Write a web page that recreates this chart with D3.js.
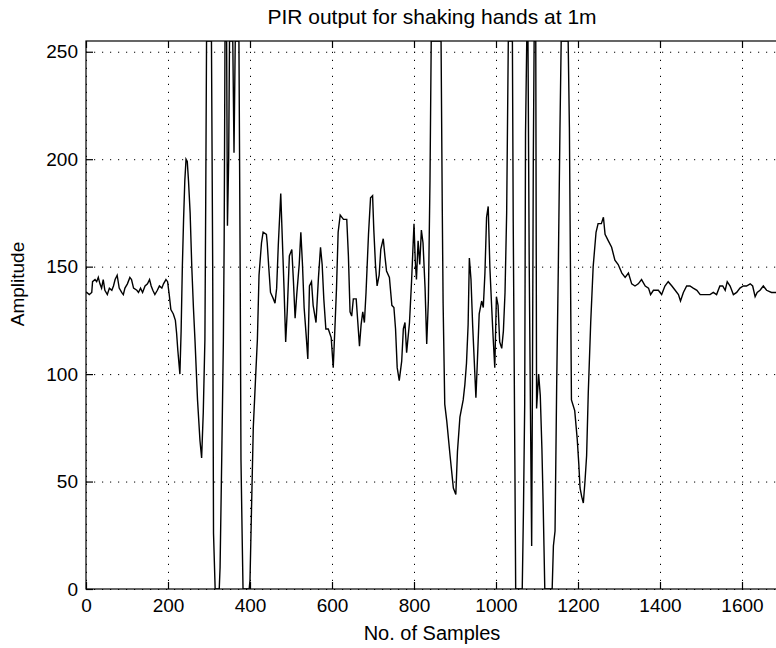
<!DOCTYPE html>
<html>
<head>
<meta charset="utf-8">
<script src="https://cdn.jsdelivr.net/npm/d3@7/dist/d3.min.js"></script>
<style>
  body { margin: 0; background: #fff; }
  text { font-family: "Liberation Sans", Arial, sans-serif; fill: #000; }
</style>
</head>
<body>
<div id="chart"></div>
<script>
// samples (x = sample no., y = PIR amplitude, clipped 0..255)
const sampleNo = [0, 2, 8, 14, 16, 22, 26, 30, 34, 38, 42, 46, 52, 57, 63, 67, 71, 76, 81, 87,
  91, 95, 101, 107, 111, 116, 124, 128, 133, 138, 144, 150, 155, 159, 163, 168, 174, 179, 185, 189,
  195, 199, 203, 207, 213, 218, 221, 224, 229, 232, 235, 238, 241, 244, 247, 250, 254, 258, 262, 266,
  272, 278, 282, 286, 290, 292, 294, 306, 309, 311, 315, 325, 327, 331, 335, 337, 339, 343, 345, 348,
  350, 358, 361, 364, 373, 376, 378, 381, 383, 398, 400, 404, 408, 414, 418, 422, 428, 432, 440, 442,
  446, 450, 457, 461, 465, 469, 475, 479, 483, 487, 491, 496, 502, 506, 510, 514, 520, 524, 528, 532,
  537, 541, 545, 550, 554, 561, 567, 572, 576, 580, 585, 591, 598, 603, 607, 611, 615, 620, 628, 636,
  640, 644, 648, 652, 659, 663, 667, 671, 675, 679, 683, 689, 694, 699, 702, 706, 710, 715, 719, 725,
  729, 733, 740, 746, 751, 755, 759, 764, 770, 774, 778, 782, 789, 794, 798, 800, 803, 806, 810, 814,
  818, 822, 827, 831, 835, 839, 842, 866, 869, 871, 875, 880, 888, 896, 902, 906, 912, 920, 924, 928,
  932, 935, 939, 943, 947, 951, 955, 959, 965, 969, 973, 977, 981, 985, 989, 993, 997, 1001, 1005, 1009,
  1014, 1018, 1022, 1026, 1030, 1040, 1042, 1046, 1048, 1064, 1067, 1070, 1072, 1075, 1078, 1081, 1084, 1087, 1089, 1091,
  1093, 1097, 1099, 1104, 1108, 1112, 1115, 1117, 1119, 1137, 1140, 1144, 1148, 1152, 1156, 1159, 1176, 1179, 1184, 1192,
  1198, 1202, 1205, 1209, 1213, 1217, 1221, 1225, 1231, 1237, 1244, 1249, 1257, 1262, 1266, 1274, 1282, 1290, 1298, 1307,
  1315, 1323, 1331, 1339, 1347, 1355, 1364, 1372, 1377, 1384, 1396, 1404, 1412, 1420, 1429, 1437, 1445, 1450, 1457, 1465,
  1473, 1481, 1490, 1498, 1506, 1514, 1522, 1530, 1538, 1546, 1553, 1559, 1564, 1571, 1579, 1587, 1595, 1603, 1611, 1620,
  1626, 1632, 1637, 1644, 1652, 1660, 1672, 1683, 1700];
const amplitude = [138, 138, 137, 138, 143, 144, 143, 145, 142, 140, 144, 139, 137, 140, 139, 141, 144, 146, 140, 138,
  137, 140, 142, 145, 144, 140, 139, 138, 140, 138, 141, 142, 144, 141, 139, 137, 139, 141, 140, 142,
  144, 143, 137, 130, 128, 125, 119, 111, 100, 120, 150, 172, 190, 200, 199, 190, 175, 150, 131, 115,
  88, 69, 61, 82, 116, 180, 255, 255, 150, 26, 0, 0, 10, 60, 115, 162, 255, 255, 169, 200,
  255, 255, 203, 255, 255, 150, 60, 23, 0, 0, 4, 40, 75, 100, 116, 146, 161, 166, 165, 161,
  149, 138, 135, 133, 140, 160, 184, 162, 140, 115, 130, 155, 158, 143, 126, 137, 151, 166, 151, 131,
  118, 107, 141, 143, 132, 124, 145, 159, 151, 135, 121, 121, 117, 103, 121, 140, 166, 174, 172, 172,
  155, 129, 127, 135, 135, 124, 113, 123, 129, 124, 138, 165, 182, 183, 167, 151, 141, 146, 158, 163,
  155, 148, 145, 132, 131, 121, 103, 97, 106, 121, 124, 110, 124, 143, 161, 170, 153, 144, 162, 151,
  167, 161, 140, 114, 134, 190, 255, 255, 176, 133, 86, 78, 62, 47, 44, 64, 80, 88, 95, 105,
  123, 154, 144, 123, 106, 89, 108, 128, 134, 131, 147, 173, 178, 150, 133, 117, 103, 136, 132, 115,
  112, 120, 138, 175, 255, 255, 171, 60, 0, 0, 37, 86, 212, 255, 255, 152, 84, 20, 100, 200,
  255, 255, 84, 100, 90, 65, 40, 20, 0, 0, 20, 27, 95, 150, 214, 255, 255, 215, 88, 83,
  70, 58, 47, 43, 40, 50, 62, 91, 124, 150, 166, 170, 170, 173, 165, 162, 159, 153, 151, 147,
  145, 147, 142, 141, 142, 144, 141, 140, 137, 139, 139, 137, 141, 143, 141, 139, 137, 134, 138, 141,
  141, 140, 139, 137, 137, 137, 137, 138, 137, 141, 141, 139, 143, 141, 137, 138, 140, 141, 141, 142,
  141, 136, 138, 139, 141, 139, 138, 138, 137];
const xTicks = [0, 200, 400, 600, 800, 1000, 1200, 1400, 1600];
const yTicks = [0, 50, 100, 150, 200, 250];

const margin = {top: 41, right: -7, bottom: 59, left: 86},
      W = 776, H = 648,
      width = W - margin.left - margin.right,
      height = H - margin.top - margin.bottom;

const data = sampleNo.map((s, i) => ({s: s, v: amplitude[i]}));

const x = d3.scaleLinear().domain([0, 1700]).range([0, width]);
const y = d3.scaleLinear().domain([0, 255]).range([height, 0]);

const svg = d3.select('#chart')
  .append('svg')
    .attr('width', W)
    .attr('height', H)
    .style('background', '#fff');

const g = svg.append('g')
  .attr('transform', `translate(${margin.left},${margin.top})`);

// dotted grid
g.append('g')
  .attr('class', 'grid')
  .attr('transform', `translate(0,${height})`)
  .call(d3.axisBottom(x).tickValues(xTicks).tickSize(-height).tickFormat(''))
  .call(s => s.select('.domain').remove());
g.append('g')
  .attr('class', 'grid')
  .call(d3.axisLeft(y).tickValues(yTicks).tickSize(-width).tickFormat(''))
  .call(s => s.select('.domain').remove());
g.selectAll('.grid line')
  .attr('stroke', '#000')
  .attr('stroke-width', 1)
  .attr('stroke-dasharray', '1.2,6.8');

// the signal
g.append('clipPath').attr('id', 'clip')
  .append('rect').attr('width', width).attr('height', height);

const line = d3.line()
  .x(d => x(d.s))
  .y(d => y(d.v));

g.append('path')
  .datum(data)
  .attr('clip-path', 'url(#clip)')
  .attr('fill', 'none')
  .attr('stroke', '#000')
  .attr('stroke-width', 1.4)
  .attr('stroke-linejoin', 'miter')
  .attr('d', line);

// box + inward ticks
g.append('rect')
  .attr('width', width).attr('height', height)
  .attr('fill', 'none').attr('stroke', '#000').attr('stroke-width', 1.2);

const fmt = d3.format('d');
const xAxis = g.append('g')
  .attr('transform', `translate(0,${height})`)
  .call(d3.axisBottom(x).tickValues(xTicks).tickFormat(fmt).tickSizeInner(-7).tickSizeOuter(0).tickPadding(10));
g.append('g')
  .call(d3.axisTop(x).tickValues(xTicks).tickSizeInner(-7).tickSizeOuter(0).tickFormat(''));
const yAxis = g.append('g')
  .call(d3.axisLeft(y).tickValues(yTicks).tickFormat(fmt).tickSizeInner(-7).tickSizeOuter(0).tickPadding(8));

g.selectAll('.domain').remove();
g.selectAll('.tick line').filter(function() { return !this.closest('.grid'); })
  .attr('stroke', '#000').attr('stroke-width', 1.2);
xAxis.selectAll('text').style('font-size', '19px');
yAxis.selectAll('text').style('font-size', '19px');

// labels
svg.append('text')
  .attr('x', 432).attr('y', 24)
  .style('text-anchor', 'middle')
  .style('font-size', '21px')
  .text('PIR output for shaking hands at 1m');

svg.append('text')
  .attr('x', 432).attr('y', 640)
  .style('text-anchor', 'middle')
  .style('font-size', '20px')
  .text('No. of Samples');

svg.append('text')
  .attr('transform', 'translate(24,284) rotate(-90)')
  .style('text-anchor', 'middle')
  .style('font-size', '19px')
  .text('Amplitude');
</script>
</body>
</html>
